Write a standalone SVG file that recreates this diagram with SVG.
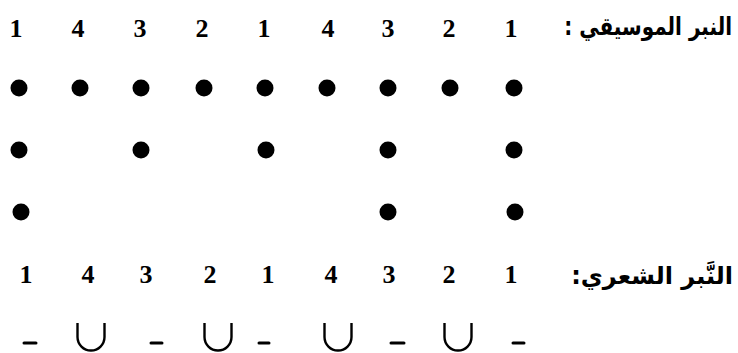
<svg xmlns="http://www.w3.org/2000/svg" width="738" height="353" viewBox="0 0 738 353">
<defs>
<style>
.num{font-family:"Liberation Serif","Times New Roman",serif;font-weight:bold;font-size:26px;fill:#000;text-anchor:middle}
.ar{font-family:"DejaVu Sans","Noto Sans",sans-serif;font-weight:bold;font-size:25px;fill:#000;text-anchor:end}
.dot{fill:#000}
.dash{stroke:#000;stroke-width:3;stroke-linecap:round}
.u{fill:none;stroke:#000;stroke-width:2.4}
</style>
</defs>
<rect width="738" height="353" fill="#fff"/>
<g id="musical-stress">
<text class="ar" transform="translate(732 35) scale(0.8 1)" x="0" y="0">النبر الموسيقي :&#x200F;</text>
<g id="top-numbers">
<text class="num" x="16" y="37">1</text>
<text class="num" x="78" y="37">4</text>
<text class="num" x="140" y="37">3</text>
<text class="num" x="202" y="37">2</text>
<text class="num" x="264" y="37">1</text>
<text class="num" x="328" y="37">4</text>
<text class="num" x="388" y="37">3</text>
<text class="num" x="449" y="37">2</text>
<text class="num" x="511" y="37">1</text>
</g>
<g id="dots-row1">
<circle class="dot" cx="19" cy="88" r="8.5"/>
<circle class="dot" cx="80" cy="88" r="8.5"/>
<circle class="dot" cx="141" cy="88" r="8.5"/>
<circle class="dot" cx="204" cy="88" r="8.5"/>
<circle class="dot" cx="265" cy="88" r="8.5"/>
<circle class="dot" cx="327" cy="88" r="8.5"/>
<circle class="dot" cx="388" cy="88" r="8.5"/>
<circle class="dot" cx="450" cy="88" r="8.5"/>
<circle class="dot" cx="514" cy="88" r="8.5"/>
</g>
<g id="dots-row2">
<circle class="dot" cx="19" cy="150" r="8.5"/>
<circle class="dot" cx="141" cy="150" r="8.5"/>
<circle class="dot" cx="266" cy="150" r="8.5"/>
<circle class="dot" cx="388" cy="150" r="8.5"/>
<circle class="dot" cx="514" cy="150" r="8.5"/>
</g>
<g id="dots-row3">
<circle class="dot" cx="21" cy="212" r="8.5"/>
<circle class="dot" cx="388" cy="212" r="8.5"/>
<circle class="dot" cx="515" cy="212" r="8.5"/>
</g>
</g>
<g id="poetic-stress">
<text class="ar" x="733" y="284" style="font-size:24px">النَّبر الشعري:&#x200F;</text>
<g id="bottom-numbers">
<text class="num" x="26" y="283">1</text>
<text class="num" x="88" y="283">4</text>
<text class="num" x="146" y="283">3</text>
<text class="num" x="210" y="283">2</text>
<text class="num" x="268" y="283">1</text>
<text class="num" x="331" y="283">4</text>
<text class="num" x="389" y="283">3</text>
<text class="num" x="449" y="283">2</text>
<text class="num" x="511" y="283">1</text>
</g>
<g id="meter-marks">
<line class="dash" x1="24" y1="343" x2="36" y2="343"/>
<path class="u" d="M77.5 323 V337 A13.5 13.5 0 0 0 104.5 337 V323"/>
<line class="dash" x1="151" y1="343" x2="162" y2="343"/>
<path class="u" d="M204.5 323 V337 A13.5 13.5 0 0 0 231.5 337 V323"/>
<line class="dash" x1="259" y1="343" x2="269" y2="343"/>
<path class="u" d="M324.5 323 V337 A13.5 13.5 0 0 0 351.5 337 V323"/>
<line class="dash" x1="391" y1="343" x2="404" y2="343"/>
<path class="u" d="M444.5 323 V337 A13.5 13.5 0 0 0 471.5 337 V323"/>
<line class="dash" x1="513" y1="343" x2="524" y2="343"/>
</g>
</g>
</svg>
